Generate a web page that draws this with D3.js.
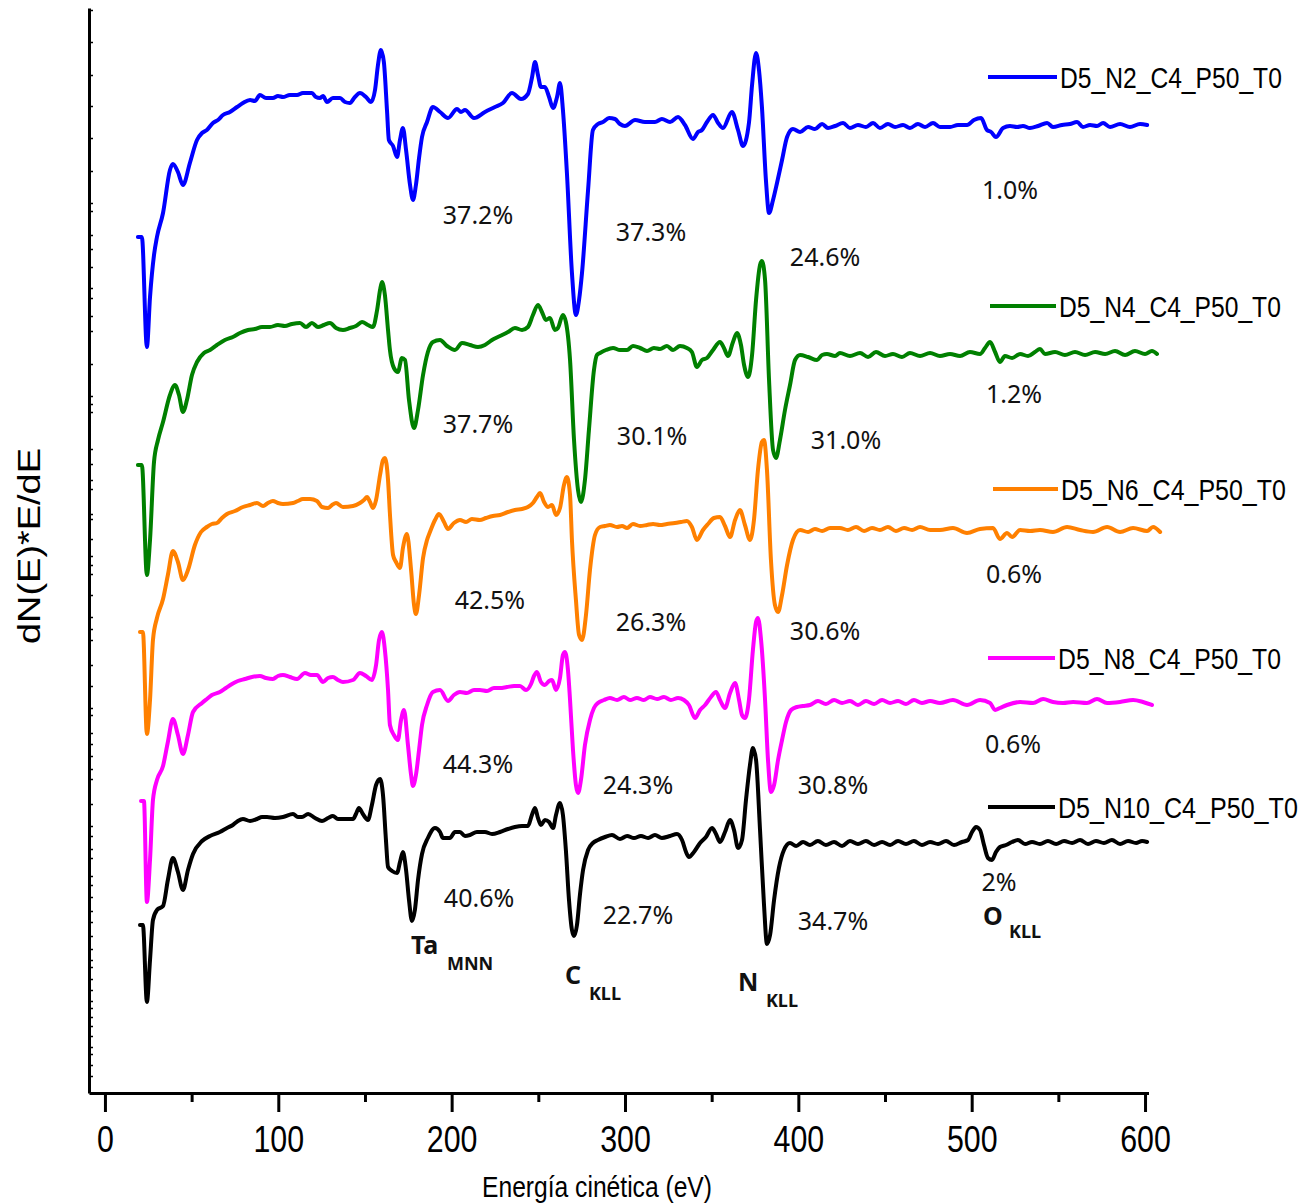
<!DOCTYPE html>
<html lang="es">
<head>
<meta charset="UTF-8">
<title>Espectros Auger D5</title>
<style>
  body { margin: 0; background: #fff; }
  svg { display: block; }
  .narrow { font-family: "Liberation Sans Narrow", "Arial Narrow", "Liberation Sans", Arial, sans-serif; }
  .pct { font-family: "Noto Sans", "Open Sans", sans-serif; font-size: 25px; fill: #111; }
  .peak { font-family: "Noto Sans", "Open Sans", sans-serif; font-weight: bold; fill: #111; }
</style>
</head>
<body>
<svg id="chart" width="1315" height="1203"></svg>
<script src="https://d3js.org/d3.v7.min.js"></script>
<script>
// spectra: [energy (eV), dN(E)*E/dE in arbitrary units, offset stack]
const specN2 = [[19.0,856],[21.3,856],[24.2,746],[26.0,796],[28.3,838],[30.0,856],[33.5,880],[37.5,923],[39.2,929],[42.1,921],[45.0,908],[49.0,930],[53.1,953],[56.0,960],[58.8,963],[62.3,970],[65.2,973],[68.1,978],[72.1,981],[76.2,986],[79.6,990],[83.7,993],[86.5,992],[89.4,998],[92.9,995],[96.9,995],[99.8,997],[102.7,996],[106.7,998],[110.8,998],[114.2,1000],[119.4,1000],[121.7,996],[124.0,995],[125.8,997],[128.1,991],[131.5,995],[135.6,995],[138.5,991],[141.3,990],[144.2,996],[147.1,1000],[150.6,996],[153.5,991],[155.8,1003],[157.5,1028],[159.2,1043],[160.9,1031],[162.7,983],[163.8,953],[166.2,947],[168.5,936],[170.2,953],[171.9,965],[173.7,943],[176.0,908],[177.7,893],[179.4,908],[181.2,935],[182.9,956],[185.8,971],[189.2,986],[193.3,981],[197.9,975],[203.1,984],[205.4,981],[207.7,983],[212.9,975],[219.2,981],[225.0,986],[229.6,990],[234.8,1000],[240.0,994],[244.0,999],[246.3,1015],[248.1,1031],[249.8,1018],[251.5,1006],[253.8,1006],[256.2,996],[258.5,985],[260.8,996],[262.5,1010],[264.2,983],[266.5,920],[269.4,820],[271.7,778],[273.5,793],[275.2,820],[278.7,903],[281.5,963],[284.4,969],[287.3,971],[290.8,975],[294.2,974],[297.1,969],[300.0,967],[305.8,973],[311.5,971],[317.3,971],[321.3,974],[326.0,971],[330.6,976],[334.6,968],[339.2,954],[342.1,961],[344.4,963],[347.3,971],[350.8,978],[353.7,970],[356.5,965],[361.7,981],[365.2,963],[368.1,947],[371.5,970],[373.3,1008],[375.6,1040],[377.3,1023],[379.0,986],[381.3,913],[383.1,880],[385.4,893],[387.7,910],[390.6,933],[393.5,956],[396.9,964],[401.0,961],[405.6,966],[409.6,964],[413.7,969],[417.1,965],[421.2,967],[425.8,970],[429.8,965],[434.4,968],[439.0,966],[443.1,970],[447.1,965],[451.7,969],[455.8,966],[460.4,968],[464.4,965],[469.0,969],[473.1,966],[477.7,970],[481.7,966],[487.5,966],[492.1,968],[497.3,968],[501.3,973],[505.4,975],[508.8,963],[511.2,961],[514.0,956],[518.1,965],[522.1,967],[526.2,966],[529.6,967],[533.6,965],[538.3,967],[543.5,970],[546.9,966],[552.1,968],[556.7,969],[560.8,971],[564.2,966],[568.3,968],[572.3,967],[575.8,970],[579.8,966],[585.6,969],[591.3,966],[597.1,969],[601.2,968]];

const specN4 = [[19.0,628],[21.3,628],[24.2,518],[26.0,553],[28.3,631],[30.6,653],[33.5,671],[37.5,698],[40.4,708],[42.7,698],[45.0,681],[47.3,693],[50.2,718],[53.1,731],[57.1,740],[60.6,743],[64.6,748],[69.2,753],[73.8,756],[77.9,760],[82.5,763],[86.5,764],[90.6,766],[95.2,766],[99.8,768],[103.8,767],[107.9,769],[112.5,770],[116.0,766],[119.4,770],[122.9,766],[126.3,768],[129.8,770],[133.3,765],[137.3,763],[141.3,765],[144.8,767],[148.3,771],[151.7,768],[154.6,766],[157.0,783],[158.7,803],[159.8,811],[161.5,798],[163.3,763],[164.4,743],[166.7,725],[169.0,721],[171.3,735],[173.1,733],[175.4,693],[178.3,665],[180.6,683],[183.5,718],[186.3,741],[189.2,751],[193.3,753],[197.3,747],[201.9,743],[206.0,750],[210.6,748],[215.2,746],[219.2,748],[223.3,753],[227.9,757],[232.5,761],[236.5,765],[240.6,763],[244.0,766],[246.9,778],[249.8,788],[252.1,781],[254.4,773],[256.7,775],[259.6,763],[261.3,765],[264.2,778],[265.9,771],[268.3,733],[270.6,653],[272.9,603],[274.6,591],[276.9,613],[279.2,663],[282.1,723],[283.8,738],[285.6,740],[289.0,743],[293.1,745],[297.1,743],[301.2,743],[304.6,747],[308.7,745],[312.7,742],[316.7,745],[320.2,744],[324.2,747],[327.7,743],[331.7,747],[335.7,745],[338.6,741],[341.5,726],[344.4,733],[347.3,735],[350.8,743],[354.8,751],[357.1,745],[359.4,737],[362.3,751],[364.6,760],[366.9,748],[368.7,728],[371.0,716],[373.3,738],[375.6,793],[377.9,828],[379.0,832],[380.8,813],[383.1,713],[385.4,643],[387.1,635],[389.4,653],[392.3,683],[395.2,708],[398.1,733],[401.0,738],[405.6,736],[410.8,733],[413.7,738],[416.5,739],[421.2,737],[424.0,740],[429.8,737],[435.6,740],[440.2,736],[444.8,741],[450.0,737],[454.6,739],[459.8,736],[464.4,740],[470.2,737],[476.0,740],[481.7,737],[487.5,739],[493.3,737],[499.0,741],[504.8,739],[507.7,745],[510.6,751],[513.5,741],[516.3,731],[519.2,737],[523.3,735],[527.9,739],[532.5,737],[536.5,741],[539.4,744],[542.3,739],[548.1,741],[553.8,738],[559.6,741],[565.4,738],[571.2,741],[577.0,739],[582.7,742],[588.5,738],[594.2,742],[600.0,739],[604.0,742],[606.9,739]];

const specN6 = [[20.2,461],[21.9,461],[24.2,359],[26.0,393],[27.7,453],[30.0,475],[33.5,494],[36.3,518],[39.2,542],[42.1,531],[45.0,513],[47.9,523],[51.9,548],[55.4,561],[58.8,566],[61.7,569],[64.6,570],[67.5,575],[70.4,579],[75.0,582],[79.6,586],[83.7,588],[87.7,590],[91.2,587],[94.0,590],[96.9,592],[99.8,590],[102.7,589],[108.5,590],[111.3,592],[114.2,594],[118.3,594],[122.3,592],[125.2,586],[128.7,585],[131.0,588],[133.3,590],[137.3,586],[143.1,587],[147.1,590],[149.4,593],[151.2,596],[152.9,591],[154.6,585],[156.4,593],[158.7,618],[160.4,633],[161.5,635],[163.3,613],[164.4,579],[166.2,538],[167.9,531],[170.2,525],[171.9,545],[174.2,559],[176.6,523],[178.3,488],[179.4,479],[181.2,498],[183.5,535],[185.8,553],[187.5,561],[190.4,573],[192.7,579],[195.6,571],[197.9,564],[201.3,570],[204.8,573],[208.3,571],[211.7,574],[216.3,573],[219.8,575],[223.8,577],[227.9,578],[232.5,581],[236.5,583],[240.6,584],[244.0,586],[246.9,590],[249.2,596],[251.0,600],[253.3,591],[255.6,586],[257.9,588],[260.2,578],[262.5,585],[264.8,608],[266.5,616],[268.3,598],[269.4,553],[271.7,493],[273.5,458],[275.2,453],[277.5,478],[279.8,523],[282.7,558],[285.6,566],[288.5,567],[291.3,568],[295.4,566],[298.3,567],[301.2,565],[304.6,569],[308.7,567],[312.7,568],[316.2,569],[320.2,568],[324.2,569],[328.8,570],[332.3,571],[335.7,572],[338.6,566],[341.5,553],[345.0,563],[347.9,569],[351.3,575],[354.8,576],[357.7,567],[360.6,556],[363.5,573],[366.3,583],[369.2,568],[372.1,553],[374.4,573],[376.7,623],[379.0,651],[380.2,653],[381.9,623],[384.2,533],[386.5,488],[388.3,481],[390.6,498],[393.5,528],[396.9,553],[401.0,563],[405.6,561],[409.6,564],[413.7,562],[418.3,565],[424.0,565],[428.6,563],[433.3,566],[437.9,562],[442.5,565],[447.1,563],[451.7,566],[456.3,562],[461.0,565],[465.6,563],[470.2,566],[476.0,563],[481.7,563],[489.2,565],[497.3,560],[504.8,564],[512.3,565],[516.3,554],[520.4,560],[523.3,556],[527.9,563],[533.7,562],[539.4,563],[546.9,561],[555.0,566],[562.5,563],[570.0,561],[578.1,566],[585.6,561],[593.1,565],[601.2,562],[604.6,566],[608.7,561]];

const specN8 = [[20.8,292],[22.5,292],[24.2,191],[26.0,233],[27.7,293],[30.0,313],[33.5,327],[36.3,351],[39.2,374],[42.1,358],[45.0,339],[47.9,358],[50.8,381],[56.0,390],[58.8,394],[61.7,398],[66.3,401],[69.8,405],[73.3,409],[76.7,412],[80.8,414],[84.8,416],[89.4,417],[92.9,415],[96.9,414],[99.8,417],[102.7,418],[106.7,416],[110.8,414],[115.4,420],[118.8,418],[122.3,418],[125.8,411],[128.7,415],[131.5,416],[134.4,413],[137.3,411],[143.1,413],[147.1,420],[150.6,417],[154.0,413],[156.4,428],[158.1,453],[159.8,461],[161.5,443],[163.3,403],[164.4,368],[166.7,358],[169.0,353],[170.8,373],[172.5,383],[174.8,348],[176.6,318],[177.7,307],[179.4,318],[181.2,343],[182.9,368],[185.8,388],[189.2,401],[193.3,403],[197.9,392],[201.3,398],[204.8,401],[208.8,400],[212.9,403],[216.3,403],[220.4,402],[224.4,405],[227.9,405],[231.9,406],[236.0,407],[239.4,407],[242.9,403],[245.8,409],[247.5,417],[249.2,421],[251.5,411],[253.8,408],[256.2,412],[257.9,413],[260.2,403],[262.5,415],[264.2,438],[265.4,441],[267.1,423],[268.3,393],[270.0,343],[271.7,308],[272.9,300],[274.6,313],[276.9,348],[279.8,373],[282.1,385],[284.4,390],[287.9,393],[291.3,395],[295.4,393],[299.4,396],[302.9,393],[306.9,395],[310.9,393],[314.4,396],[318.5,394],[322.5,396],[326.5,393],[330.6,395],[334.0,393],[336.9,388],[340.4,375],[343.3,383],[346.2,388],[349.6,396],[352.5,401],[354.8,393],[357.7,385],[360.6,400],[363.5,410],[365.8,393],[367.5,378],[369.2,375],[371.5,393],[373.8,443],[375.6,471],[376.7,475],[378.5,453],[380.8,393],[382.5,333],[384.2,301],[386.0,308],[388.3,333],[390.6,353],[392.9,371],[395.8,383],[399.2,386],[402.7,387],[406.7,388],[411.3,392],[415.9,389],[420.6,393],[425.2,390],[429.8,392],[434.4,388],[439.0,392],[443.7,389],[448.3,393],[452.9,390],[457.5,392],[462.1,389],[466.7,393],[471.3,390],[476.0,392],[481.7,390],[489.2,393],[497.3,388],[504.8,393],[510.6,390],[513.5,383],[516.3,385],[520.4,388],[527.9,391],[535.4,390],[541.2,394],[546.9,391],[552.7,390],[558.5,391],[566.5,390],[572.3,394],[578.1,390],[585.6,391],[593.1,393],[598.8,391],[604.0,388]];

const specN10 = [[20.2,168],[21.9,168],[24.2,91],[26.0,133],[27.7,173],[30.0,183],[33.5,187],[36.3,213],[39.2,235],[42.1,221],[45.0,203],[47.9,223],[50.8,239],[56.0,252],[60.6,257],[66.3,261],[70.4,265],[73.8,268],[76.7,272],[79.6,274],[83.7,272],[87.7,274],[90.6,276],[93.5,276],[98.1,275],[102.7,276],[108.5,279],[111.3,276],[113.7,276],[117.2,279],[121.2,275],[125.2,272],[128.7,275],[131.5,277],[134.4,274],[137.3,274],[143.1,274],[144.8,279],[146.5,285],[148.8,279],[151.7,273],[154.0,288],[156.4,308],[158.7,314],[160.4,298],[162.1,253],[163.3,226],[165.6,222],[168.5,220],[170.2,231],[171.9,241],[173.7,223],[175.4,193],[177.1,172],[178.8,183],[180.6,213],[182.9,239],[186.3,255],[190.4,265],[193.3,261],[195.0,255],[199.0,255],[201.9,261],[204.8,261],[207.7,257],[210.6,258],[214.6,261],[219.2,261],[223.3,259],[227.9,261],[232.5,264],[236.5,266],[240.6,267],[244.0,267],[246.3,278],[248.1,285],[249.8,275],[251.5,268],[253.8,273],[256.2,271],[258.5,265],[260.2,278],[262.5,290],[264.2,278],[265.9,243],[267.7,193],[269.4,163],[270.6,157],[272.3,168],[274.0,198],[275.8,223],[278.7,243],[281.5,250],[284.4,253],[288.5,256],[292.5,258],[297.1,254],[301.2,257],[305.2,255],[309.2,257],[313.3,255],[317.3,258],[321.3,255],[326.0,257],[330.0,259],[332.9,253],[335.2,241],[336.9,236],[339.8,241],[343.3,250],[346.7,256],[350.2,265],[352.5,259],[354.8,251],[357.7,261],[360.6,273],[362.9,263],[365.2,245],[367.5,253],[369.8,293],[372.1,328],[373.8,345],[375.6,333],[377.9,263],[380.2,188],[381.9,149],[383.7,158],[386.0,193],[388.8,225],[391.7,243],[395.2,250],[398.7,247],[402.7,251],[406.7,248],[411.3,252],[415.9,248],[420.6,251],[425.2,247],[429.8,252],[434.4,249],[439.0,252],[443.7,248],[448.3,251],[452.9,248],[457.5,252],[462.1,249],[466.7,252],[471.3,248],[476.0,251],[480.6,249],[485.2,252],[489.8,248],[494.4,251],[497.9,253],[500.2,261],[502.5,266],[504.8,263],[507.1,248],[509.4,235],[511.7,233],[514.0,241],[516.3,246],[519.8,248],[523.3,251],[526.7,253],[530.8,249],[534.8,251],[539.4,249],[544.0,252],[548.7,249],[553.3,252],[557.9,250],[562.5,253],[567.1,249],[571.7,252],[576.3,250],[580.9,253],[585.6,249],[590.2,252],[594.8,250],[598.3,252],[601.2,251]];

const seriesNames = ["D5_N2_C4_P50_T0", "D5_N4_C4_P50_T0", "D5_N6_C4_P50_T0", "D5_N8_C4_P50_T0", "D5_N10_C4_P50_T0"];
const seriesColors = ["#0000ff", "#008000", "#ff8000", "#ff00ff", "#000000"];
const seriesData = [specN2, specN4, specN6, specN8, specN10];

// atomic percentages written next to each transition: [text, energy, level]
const pctLabels = [
  ["37.2%", 215.2, 878], ["37.3%", 315.0, 861], ["24.6%", 415.4, 836], ["1.0%", 522.1, 903],
  ["37.7%", 215.2, 669], ["30.1%", 315.6, 657], ["31.0%", 427.5, 653], ["1.2%", 524.4, 699],
  ["42.5%", 222.1, 493], ["26.3%", 315.0, 471], ["30.6%", 415.4, 462], ["0.6%", 524.4, 519],
  ["44.3%", 215.2, 329], ["24.3%", 307.5, 308], ["30.8%", 420.0, 308], ["0.6%", 523.8, 349],
  ["40.6%", 215.8, 195], ["22.7%", 307.5, 178], ["34.7%", 420.0, 172], ["2%", 515.8, 211]
];
// transition names: [symbol, energy, level, subscript, energy, level]
const peakLabels = [
  ["Ta", 176.5, 148, "MNN", 197.3, 129],
  ["C", 265.4, 118, "KLL", 279.2, 99],
  ["N", 365.2, 111, "KLL", 381.3, 92],
  ["O", 506.5, 177, "KLL", 521.5, 161]
];

const majorTicks = [0, 100, 200, 300, 400, 500, 600];
const minorTicks = [50, 150, 250, 350, 450, 550];
const yTicks = [1083,1051,1018,987,955,922,890,882,858,844,826,805,795,777,762,729,697,689,681,644,629,613,604,579,574,554,537,528,519,498,476,464,453,428,407,385,378,360,349,337,324,314,289,267,257,244,235,217,208,196,182,171,157,144,133,126,114,103,92,85,76,67,57,46,39,28,17];

// layout (legend rows sit beside each trace); narrow face is emulated by squeezing
const legendY = [77, 306, 489, 658, 807];
const legendX = [[988, 1057], [990, 1056], [993, 1058], [988, 1055], [988, 1055]];
const legendW = [222, 222, 225, 223, 240];
const narrowEm = 0.456; // Arial Narrow digit advance

const svg = d3.select("#chart");
const x = d3.scaleLinear().domain([-9.2, 602]).range([89, 1148.5]);
const y = d3.scaleLinear().domain([0, 1085]).range([1093, 8]);

// x axis: major + minor ticks
const gx = svg.append("g").attr("transform", `translate(0,${y(0)})`);
gx.call(d3.axisBottom(x).tickValues(minorTicks).tickSize(9).tickSizeOuter(0).tickFormat(""));
const gxMajor = svg.append("g").attr("transform", `translate(0,${y(0)})`)
  .call(d3.axisBottom(x).tickValues(majorTicks).tickSize(19).tickSizeOuter(0).tickPadding(14));
gxMajor.select(".domain").remove();
svg.selectAll("g .domain").attr("stroke", "#000").attr("stroke-width", 3);
svg.selectAll("g .tick line").attr("stroke", "#000").attr("stroke-width", 3);
gxMajor.selectAll("text")
  .attr("class", "narrow")
  .attr("font-size", 37)
  .attr("fill", "#000")
  .attr("textLength", d => String(d).length * narrowEm * 37)
  .attr("lengthAdjust", "spacingAndGlyphs");

// y axis with only tiny marks
const gy = svg.append("g").attr("transform", `translate(${x(-9.2)},0)`)
  .call(d3.axisRight(y).tickValues(yTicks).tickSize(4).tickSizeOuter(0).tickFormat(""));
gy.select(".domain").attr("stroke", "#000").attr("stroke-width", 3);
gy.selectAll(".tick line").attr("stroke", "#000").attr("stroke-width", 1.5);

// axis titles
svg.append("text")
  .attr("class", "narrow")
  .attr("x", 597).attr("y", 1197)
  .attr("text-anchor", "middle")
  .attr("font-size", 30)
  .attr("textLength", 230)
  .attr("lengthAdjust", "spacingAndGlyphs")
  .text("Energía cinética (eV)");

svg.append("text")
  .attr("transform", "translate(40,546) rotate(-90)")
  .attr("text-anchor", "middle")
  .attr("font-family", "Liberation Sans, Arial, sans-serif")
  .attr("font-size", 32)
  .attr("textLength", 196)
  .attr("lengthAdjust", "spacingAndGlyphs")
  .text("dN(E)*E/dE");

// spectra
const line = d3.line()
  .x(d => x(d[0]))
  .y(d => y(d[1]))
  .curve(d3.curveMonotoneX);

svg.append("g").selectAll("path")
  .data(seriesData)
  .join("path")
  .attr("d", line)
  .attr("fill", "none")
  .attr("stroke", (d, i) => seriesColors[i])
  .attr("stroke-width", 4)
  .attr("stroke-linejoin", "round")
  .attr("stroke-linecap", "round");

// legend, one entry next to each spectrum
const leg = svg.append("g").selectAll("g")
  .data(seriesNames)
  .join("g");
leg.append("line")
  .attr("x1", (d, i) => legendX[i][0])
  .attr("x2", (d, i) => legendX[i][1])
  .attr("y1", (d, i) => legendY[i])
  .attr("y2", (d, i) => legendY[i])
  .attr("stroke", (d, i) => seriesColors[i])
  .attr("stroke-width", 4);
leg.append("text")
  .attr("class", "narrow")
  .attr("font-size", 30)
  .text(d => d)
  .each(function (d, i) {
    const w = this.getComputedTextLength();
    const k = w > 0 ? legendW[i] / w : 0.82;
    d3.select(this).attr("transform",
      `translate(${legendX[i][1] + 3},${legendY[i] + 11}) scale(${k},1)`);
  });

// percentages
svg.append("g").selectAll("text")
  .data(pctLabels)
  .join("text")
  .attr("class", "pct")
  .attr("x", d => x(d[1]))
  .attr("y", d => y(d[2]))
  .attr("dy", "0.35em")
  .attr("text-anchor", "middle")
  .text(d => d[0]);

// transition names
const pk = svg.append("g").selectAll("g")
  .data(peakLabels)
  .join("g");
pk.append("text")
  .attr("class", "peak")
  .attr("x", d => x(d[1]))
  .attr("y", d => y(d[2]))
  .attr("dy", "0.35em")
  .attr("font-size", 25)
  .text(d => d[0]);
pk.append("text")
  .attr("class", "peak")
  .attr("x", d => x(d[4]))
  .attr("y", d => y(d[5]))
  .attr("dy", "0.35em")
  .attr("font-size", 18)
  .text(d => d[3]);
</script>
</body>
</html>
